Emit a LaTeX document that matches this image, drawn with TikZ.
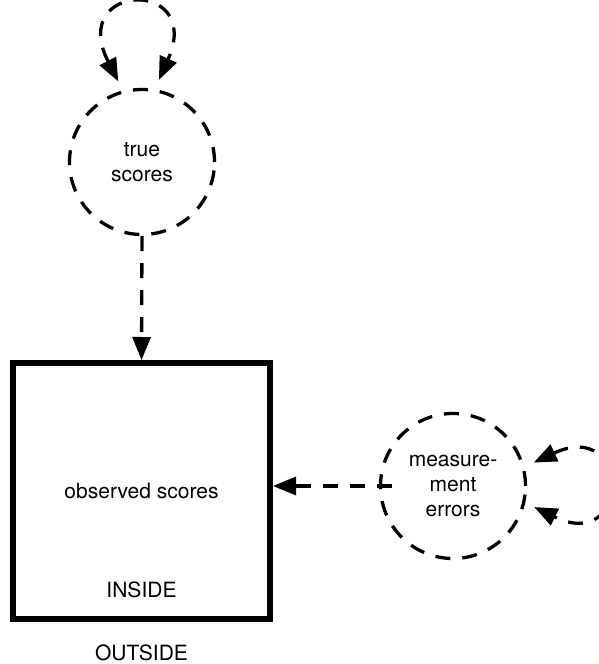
\documentclass[tikz,border=0pt]{standalone}
\usepackage{fontspec}
\setmainfont{TeX Gyre Heros}
\usetikzlibrary{positioning,arrows.meta}

\begin{document}
\begin{tikzpicture}[x=1pt, y=1pt, font=\fontsize{21}{25.5}\selectfont,
  dep/.style={line width=3.3pt, dash pattern=on 15pt off 12pt},
  latent/.style={circle, draw, dep, minimum size=145pt, inner sep=0pt, align=center},
  tip/.style={-{Triangle[length=23pt,width=18pt]}},
  twotip/.style={{Triangle[length=23pt,width=18pt]}-{Triangle[length=23pt,width=18pt]}}]
  \useasboundingbox (0,0) rectangle (598,664);
  % observed variable
  \node[draw, line width=6pt, minimum width=257pt, minimum height=256pt] (obs) at (141.5,173) {observed scores};
  \node (inside) at ([yshift=32pt]obs.south) {INSIDE};
  \node (outside) at ([yshift=-31pt]obs.south) {OUTSIDE};
  % latent variables
  \node[latent] (ts) at (142,502) {true\\scores};
  \node[latent] (me) at (453,178) {measure-\\ment\\errors};
  % paths
  \draw[dep,tip] (ts.south) -- (obs.north);
  \draw[dep,tip,shorten <=-13pt] (me.west) -- (me.west -| obs.east);
  % variances
  \draw[dep,twotip,shorten <=10pt,shorten >=10pt] (ts.105) .. controls +(117:122) and +(66:122) .. (ts.80);
  \draw[dep,twotip,shorten <=10pt,shorten >=10pt] (me.15) .. controls +(25:118) and +(-26:118) .. (me.-13);
\end{tikzpicture}
\end{document}
